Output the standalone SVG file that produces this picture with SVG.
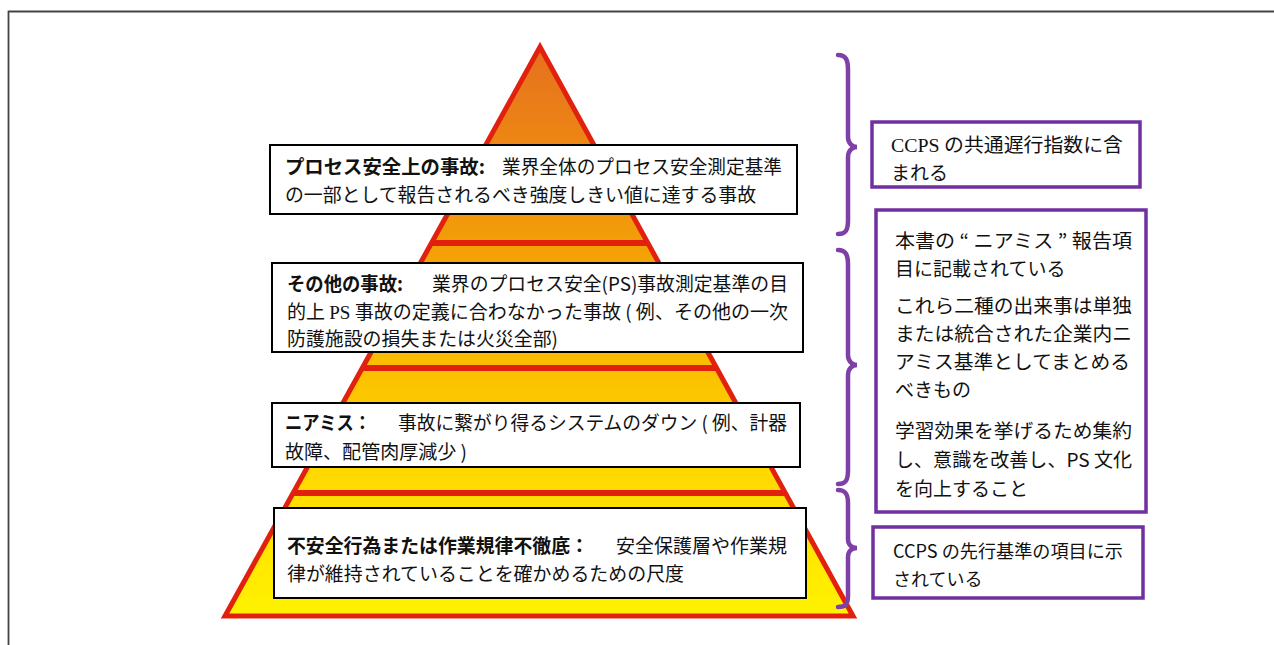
<svg xmlns="http://www.w3.org/2000/svg" width="1274" height="645" viewBox="0 0 1274 645">
  <defs>
    <linearGradient id="pyrGrad" x1="0" y1="47" x2="0" y2="616" gradientUnits="userSpaceOnUse">
      <stop offset="0" stop-color="#E6701E"/>
      <stop offset="0.3" stop-color="#F2980C"/>
      <stop offset="0.45" stop-color="#F7AE00"/>
      <stop offset="0.7" stop-color="#FFD400"/>
      <stop offset="1" stop-color="#FFF200"/>
    </linearGradient>
    <style>
      .box { fill: #ffffff; stroke: #000000; stroke-width: 2; }
      .pbox { fill: #ffffff; stroke: #7030A0; stroke-width: 3.5; }
      .band { stroke: #E2200E; stroke-width: 6; }
      .brace { fill: none; stroke: #7E3FA6; stroke-width: 4.5; stroke-linecap: round; }
      .t { font-family: "Noto Sans CJK JP", "Noto Sans", sans-serif; font-size: 19px; fill: #111111; }
      .b { font-weight: bold; }
      .r { font-size: 19px; }
      .s { font-size: 18px; }
      .serif { font-family: "Liberation Serif", "Noto Sans CJK JP", serif; }
    </style>
  </defs>

  <rect width="1274" height="645" fill="#ffffff"/>
  <path d="M8.5,645 L8.5,11.5 L1274,11.5" fill="none" stroke="#444444" stroke-width="1.8"/>

  <g id="pyramid">
    <polygon points="540,47 853,616 225,616" fill="url(#pyrGrad)"/>
    <line class="band" x1="432" y1="243" x2="648" y2="243"/>
    <line class="band" x1="363" y1="368" x2="717" y2="368"/>
    <line class="band" x1="294" y1="493" x2="786" y2="493"/>
    <polygon points="540,47 853,616 225,616" fill="none" stroke="#E2200E" stroke-width="5" stroke-linejoin="miter"/>
  </g>

  <g id="connectors">
    <path class="brace" d="M838,55 C846,55 848,60 848,70 L848,137 C848,143 852,147 857,147 C852,147 848,151 848,157 L848,220 C848,230 846,234 838,234"/>
    <path class="brace" d="M838,250 C846,250 848,255 848,265 L848,355 C848,361 852,365 857,365 C852,365 848,369 848,375 L848,470 C848,480 846,484 838,484"/>
    <path class="brace" d="M838,490 C846,490 848,495 848,503 L848,539 C848,545 852,548 857,548 C852,548 848,551 848,557 L848,596 C848,604 846,607 838,607"/>
  </g>

  <g id="node-ps-incident">
    <rect class="box" x="270" y="145" width="527" height="69"/>
    <text class="t b" x="285" y="174" textLength="200" lengthAdjust="spacingAndGlyphs">プロセス安全上の事故:</text>
    <text class="t" x="502" y="174" textLength="280" lengthAdjust="spacingAndGlyphs">業界全体のプロセス安全測定基準</text>
    <text class="t" x="285" y="202" textLength="471" lengthAdjust="spacingAndGlyphs">の一部として報告されるべき強度しきい値に達する事故</text>
  </g>

  <g id="node-other-incident">
    <rect class="box" x="272" y="263" width="531" height="89"/>
    <text class="t b" x="287" y="291" textLength="116" lengthAdjust="spacingAndGlyphs">その他の事故:</text>
    <text class="t" x="432" y="291" textLength="356" lengthAdjust="spacingAndGlyphs">業界のプロセス安全(PS)事故測定基準の目</text>
    <text class="t" x="287" y="319" textLength="501" lengthAdjust="spacingAndGlyphs">的上 <tspan class="serif">PS</tspan> 事故の定義に合わなかった事故 ( 例、その他の一次</text>
    <text class="t" x="287" y="346" textLength="271" lengthAdjust="spacingAndGlyphs">防護施設の損失または火災全部)</text>
  </g>

  <g id="node-near-miss">
    <rect class="box" x="272" y="403" width="528" height="64"/>
    <text class="t b" x="285" y="430" textLength="86" lengthAdjust="spacingAndGlyphs">ニアミス：</text>
    <text class="t" x="398" y="430" textLength="389" lengthAdjust="spacingAndGlyphs">事故に繋がり得るシステムのダウン ( 例、計器</text>
    <text class="t" x="285" y="459" textLength="182" lengthAdjust="spacingAndGlyphs">故障、配管肉厚減少 )</text>
  </g>

  <g id="node-unsafe-acts">
    <rect class="box" x="274" y="508" width="532" height="90"/>
    <text class="t b" x="287" y="553" textLength="302" lengthAdjust="spacingAndGlyphs">不安全行為または作業規律不徹底：</text>
    <text class="t" x="616" y="553" textLength="171" lengthAdjust="spacingAndGlyphs">安全保護層や作業規</text>
    <text class="t" x="287" y="581" textLength="397" lengthAdjust="spacingAndGlyphs">律が維持されていることを確かめるための尺度</text>
  </g>

  <g id="node-ccps-lagging">
    <rect class="pbox" x="872" y="122" width="268" height="65"/>
    <text class="t r" x="891" y="152" textLength="232" lengthAdjust="spacingAndGlyphs"><tspan class="serif">CCPS</tspan> の共通遅行指数に含</text>
    <text class="t r" x="891" y="180">まれる</text>
  </g>

  <g id="node-near-miss-note">
    <rect class="pbox" x="876" y="210" width="270" height="302"/>
    <text class="t r" x="895" y="248" textLength="237" lengthAdjust="spacingAndGlyphs">本書の “ ニアミス ” 報告項</text>
    <text class="t r" x="895" y="276">目に記載されている</text>
    <text class="t r" x="895" y="313" textLength="237" lengthAdjust="spacingAndGlyphs">これら二種の出来事は単独</text>
    <text class="t r" x="895" y="341" textLength="237" lengthAdjust="spacingAndGlyphs">または統合された企業内ニ</text>
    <text class="t r" x="895" y="369" textLength="235" lengthAdjust="spacingAndGlyphs">アミス基準としてまとめる</text>
    <text class="t r" x="895" y="397">べきもの</text>
    <text class="t r" x="895" y="438" textLength="237" lengthAdjust="spacingAndGlyphs">学習効果を挙げるため集約</text>
    <text class="t r" x="895" y="467" textLength="237" lengthAdjust="spacingAndGlyphs">し、意識を改善し、PS 文化</text>
    <text class="t r" x="895" y="496">を向上すること</text>
  </g>

  <g id="node-ccps-leading">
    <rect class="pbox" x="873" y="527" width="270" height="71"/>
    <text class="t s" x="893" y="558" textLength="230" lengthAdjust="spacingAndGlyphs">CCPS の先行基準の項目に示</text>
    <text class="t s" x="893" y="586">されている</text>
  </g>
</svg>
